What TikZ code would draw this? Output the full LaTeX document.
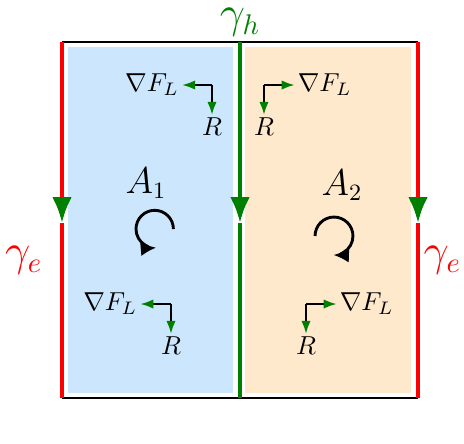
\documentclass[tikz,border=0pt]{standalone}
\usepackage{amsmath,amssymb}
\usetikzlibrary{arrows.meta,positioning}
\definecolor{regblue}{RGB}{204,231,253}
\definecolor{regorange}{RGB}{255,233,204}
\definecolor{hgreen}{RGB}{0,128,0}
\definecolor{ered}{RGB}{255,0,0}
\begin{document}
\begin{tikzpicture}[x=0.385pt,y=-0.385pt,>=Latex,
  bnd/.style={line width=1.5pt},
  flow/.style={-{Latex[length=10pt,width=7.6pt,color=hgreen]}},
  lab/.style={inner sep=1pt},
  glab/.style={inner sep=0pt,font=\fontsize{16}{19}\selectfont},
  alab/.style={inner sep=0pt,font=\fontsize{13.4}{16}\selectfont,anchor=base},
  grad/.style={line width=0.75pt,-{Latex[length=5pt,width=3.6pt,color=hgreen]}},
  spin/.style={line width=1.1pt,-{Latex[length=6pt,width=5.5pt]}}]
\useasboundingbox (0,0) rectangle (464,443);
% regions
\fill[regblue] (68,47) rectangle (233,393);
\fill[regorange] (245,47) rectangle (411,393);
% boundary
\coordinate (tl) at (62,42); \coordinate (tr) at (418,42);
\coordinate (bl) at (62,398); \coordinate (br) at (418,398);
\coordinate (ht) at (240,42); \coordinate (hb) at (240,398);
\coordinate (lm) at (62,223); \coordinate (rm) at (418,223); \coordinate (hm) at (240,223);
\draw[line width=0.65pt] (tl)--(tr);
\draw[line width=0.8pt] (bl)--(br);
\draw[bnd,ered,flow] (tl)--(lm); \draw[bnd,ered] (lm)--(bl);
\draw[bnd,ered,flow] (tr)--(rm); \draw[bnd,ered] (rm)--(br);
\draw[bnd,hgreen,flow] (ht)--(hm); \draw[bnd,hgreen] (hm)--(hb);
\coordinate (le) at (62,260); \coordinate (re) at (418,260);
\node[glab,text=hgreen,above=2pt of ht] (gh) {$\gamma_h$};
\node[glab,text=ered,left=7.3pt of le] (gel) {$\gamma_e$};
\node[glab,text=ered,right=2pt of re] (ger) {$\gamma_e$};
% areas and orientation
\node[alab] (a1) at (146,193) {$A_1$};
\node[alab] (a2) at (342,195) {$A_2$};
\coordinate (s1) at (154.7,229); \coordinate (s2) at (334,236);
\draw[spin] (s1) ++(0:7.2pt) arc[start angle=0,end angle=275,radius=7.2pt];
\draw[spin] (s2) ++(180:7.3pt) arc[start angle=180,end angle=-92,radius=7.3pt];
% gradient / R pairs
\coordinate (c1) at (212,85); \coordinate (c2) at (264,85);
\coordinate (c3) at (171,304); \coordinate (c4) at (306,304);
\node[lab,left=11.5pt of c1] (g1) {$\nabla F_L$};
\node[lab,right=11.8pt of c2] (g2) {$\nabla F_L$};
\node[lab,left=11.8pt of c3] (g3) {$\nabla F_L$};
\node[lab,right=11.8pt of c4] (g4) {$\nabla F_L$};
\node[lab,below=11.5pt of c1] (r1) {$R$};
\node[lab,below=11.5pt of c2] (r2) {$R$};
\node[lab,below=11.5pt of c3] (r3) {$R$};
\node[lab,below=11.5pt of c4] (r4) {$R$};
\foreach \i in {1,2,3,4}{
  \draw[grad] (c\i)--(g\i);
  \draw[grad] (c\i)--(r\i);
}
\end{tikzpicture}
\end{document}
